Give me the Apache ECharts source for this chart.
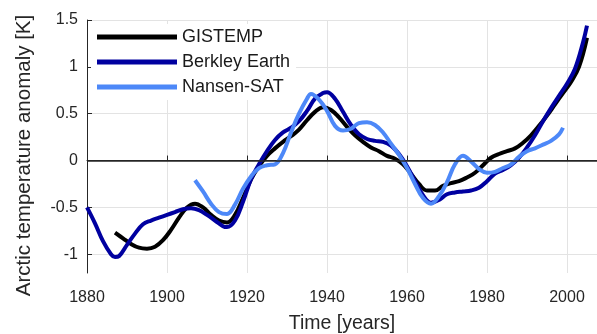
<!DOCTYPE html>
<html>
<head>
<meta charset="utf-8">
<script src="https://cdn.jsdelivr.net/npm/echarts@6/dist/echarts.min.js"></script>
<style>
  html, body { margin: 0; padding: 0; background: #fff; }
  #chart { width: 597px; height: 334px; }
</style>
</head>
<body>
<div id="chart"></div>
<script>
// tick values
const xTicks = [1880, 1900, 1920, 1940, 1960, 1980, 2000];
const yTicks = [-1, -0.5, 0, 0.5, 1, 1.5];

// GISTEMP
const gisYears = [1887, 1889, 1891, 1893, 1895, 1897, 1899, 1901, 1903, 1905, 1907, 1909, 1911, 1913, 1915, 1917, 1919, 1921, 1923, 1925, 1927, 1929, 1931, 1933, 1935, 1937, 1939, 1941, 1943, 1945, 1947, 1949, 1951, 1953, 1955, 1957, 1959, 1961, 1963, 1965, 1967, 1969, 1971, 1973, 1975, 1977, 1979, 1981, 1983, 1985, 1987, 1989, 1991, 1993, 1995, 1997, 1999, 2001, 2003, 2005];
const gisValues = [-0.77, -0.83, -0.89, -0.93, -0.94, -0.92, -0.85, -0.74, -0.61, -0.5, -0.46, -0.5, -0.58, -0.64, -0.66, -0.58, -0.4, -0.2, -0.06, 0.05, 0.13, 0.2, 0.26, 0.33, 0.43, 0.52, 0.57, 0.54, 0.46, 0.36, 0.27, 0.2, 0.14, 0.1, 0.05, 0.02, -0.04, -0.14, -0.25, -0.32, -0.32, -0.27, -0.24, -0.22, -0.18, -0.13, -0.05, 0.03, 0.07, 0.1, 0.13, 0.19, 0.27, 0.37, 0.48, 0.6, 0.72, 0.84, 1.0, 1.31];

// Berkley Earth
const berkYears = [1880, 1882, 1884, 1886, 1887, 1888, 1890, 1892, 1894, 1896, 1898, 1900, 1902, 1904, 1906, 1908, 1910, 1912, 1914, 1915, 1917, 1919, 1921, 1923, 1925, 1927, 1929, 1931, 1933, 1935, 1937, 1939, 1940, 1942, 1944, 1946, 1948, 1950, 1952, 1954, 1956, 1958, 1960, 1962, 1964, 1966, 1968, 1970, 1972, 1974, 1976, 1978, 1980, 1982, 1984, 1986, 1988, 1990, 1992, 1994, 1996, 1998, 2000, 2002, 2004, 2005];
const berkValues = [-0.5, -0.67, -0.86, -1.0, -1.03, -1.02, -0.9, -0.78, -0.68, -0.64, -0.61, -0.58, -0.55, -0.52, -0.51, -0.53, -0.58, -0.64, -0.7, -0.71, -0.64, -0.44, -0.2, -0.04, 0.1, 0.22, 0.3, 0.35, 0.42, 0.53, 0.66, 0.72, 0.73, 0.66, 0.52, 0.38, 0.28, 0.23, 0.21, 0.2, 0.16, 0.07, -0.06, -0.22, -0.37, -0.45, -0.42, -0.36, -0.34, -0.33, -0.32, -0.29, -0.22, -0.14, -0.1, -0.05, 0.03, 0.14, 0.27, 0.42, 0.56, 0.69, 0.82, 0.98, 1.26, 1.44];

// Nansen-SAT
const nansenYears = [1907, 1909, 1911, 1913, 1915, 1917, 1919, 1921, 1923, 1925, 1927, 1929, 1931, 1933, 1935, 1936, 1938, 1940, 1942, 1944, 1946, 1948, 1950, 1952, 1954, 1956, 1958, 1960, 1962, 1964, 1966, 1968, 1970, 1972, 1974, 1976, 1978, 1980, 1982, 1984, 1986, 1988, 1990, 1992, 1994, 1996, 1998, 1999];
const nansenValues = [-0.21, -0.33, -0.46, -0.55, -0.57, -0.47, -0.3, -0.17, -0.08, -0.05, -0.04, 0.08, 0.3, 0.5, 0.66, 0.71, 0.65, 0.53, 0.37, 0.32, 0.34, 0.4, 0.41, 0.38, 0.3, 0.18, 0.06, -0.08, -0.25, -0.4, -0.46, -0.38, -0.23, -0.04, 0.05, -0.01, -0.09, -0.13, -0.12, -0.08, -0.04, 0.04, 0.1, 0.13, 0.17, 0.21, 0.28, 0.35];

const pairs = (xs, ys) => xs.map((x, i) => [x, ys[i]]);

const chart = echarts.init(document.getElementById('chart'));
const font = 'Liberation Sans, Arial, sans-serif';
const axisColor = '#262626';

const lineSeries = (name, data, color) => ({
  name: name,
  type: 'line',
  data: data,
  smooth: 0.4,
  showSymbol: false,
  symbol: 'none',
  lineStyle: { color: color, width: 4 },
  itemStyle: { color: color }
});

const series = [
  lineSeries('GISTEMP', pairs(gisYears, gisValues), '#000000'),
  lineSeries('Berkley Earth', pairs(berkYears, berkValues), '#0000a0'),
  lineSeries('Nansen-SAT', pairs(nansenYears, nansenValues), '#4d88f8')
];
// zero line
series[0].markLine = {
  silent: true,
  symbol: 'none',
  label: { show: false },
  lineStyle: { color: '#262626', width: 1.5, type: 'solid' },
  data: [{ yAxis: 0 }]
};

chart.setOption({
  animation: false,
  backgroundColor: '#fff',
  textStyle: { fontFamily: font },
  grid: { left: 87, right: 0, top: 20, bottom: 61, outerBoundsMode: 'none', containLabel: false },
  legend: {
    orient: 'vertical',
    left: 91,
    top: 24,
    padding: [4, 6],
    itemGap: 7,
    itemWidth: 80,
    itemHeight: 5,
    icon: 'rect',
    backgroundColor: '#fff',
    textStyle: { fontSize: 18, color: '#1a1a1a', fontFamily: font },
    data: ['GISTEMP', 'Berkley Earth', 'Nansen-SAT']
  },
  xAxis: {
    type: 'value',
    min: 1880,
    max: 2007.5,
    name: 'Time [years]',
    nameLocation: 'middle',
    nameGap: 41,
    nameTextStyle: { fontSize: 19.5, color: '#262626' },
    axisLine: { lineStyle: { color: axisColor, width: 1 } },
    axisTick: { inside: true, length: 5, customValues: xTicks, lineStyle: { color: axisColor } },
    axisLabel: { customValues: xTicks, fontSize: 16, color: '#262626', margin: 17, formatter: v => String(v) },
    splitLine: { show: true, lineStyle: { color: '#e3e3e3', width: 1 } }
  },
  yAxis: {
    type: 'value',
    min: -1.2,
    max: 1.5,
    name: 'Arctic temperature anomaly [K]',
    nameLocation: 'middle',
    nameGap: 52,
    nameTextStyle: { fontSize: 20.5, color: '#262626', padding: [0, 18, 0, 0] },
    axisLine: { show: true, lineStyle: { color: axisColor, width: 1 } },
    axisTick: { show: true, inside: true, length: 5, customValues: yTicks, lineStyle: { color: axisColor } },
    axisLabel: { customValues: yTicks, fontSize: 16, color: '#262626', margin: 9 },
    splitLine: { show: true, lineStyle: { color: '#e3e3e3', width: 1 } }
  },
  series: series
});
</script>
</body>
</html>
